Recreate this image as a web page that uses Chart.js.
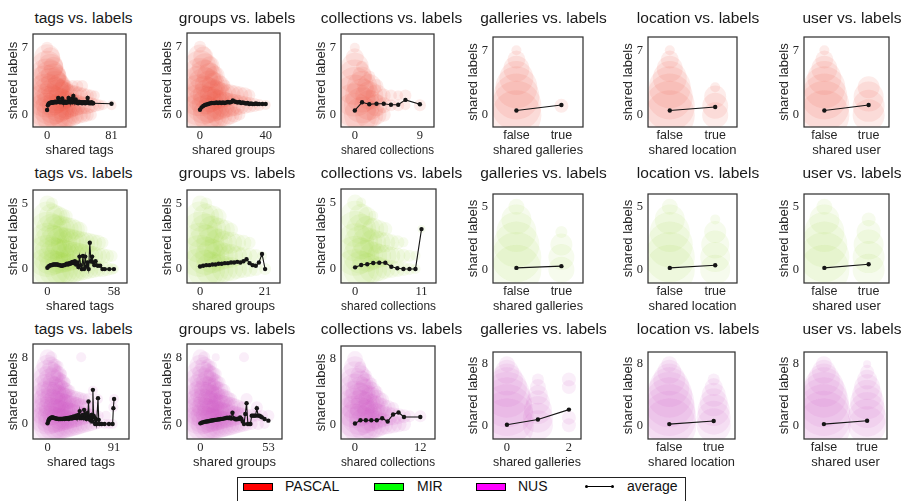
<!DOCTYPE html>
<html>
<head>
<meta charset="utf-8">
<script src="https://cdn.jsdelivr.net/npm/chart.js@4.4.1/dist/chart.umd.min.js"></script>
<style>
  body { margin: 0; background: #fff; width: 902px; height: 501px; position: relative; overflow: hidden;
         font-family: "Liberation Sans", Arial, sans-serif; }
  canvas { position: absolute; }
  .title { position: absolute; width: 200px; height: 18px; line-height: 18px; font-size: 15.5px;
           color: #1a1a1a; text-align: center; white-space: nowrap; }
  #legend { position: absolute; left: 237px; top: 477px; width: 449px; height: 30px;
            border: 1px solid #222; box-sizing: border-box; }
  .sw { position: absolute; top: 5px; width: 30px; height: 8px; border: 1px solid #000; box-sizing: border-box; }
  .lt { position: absolute; top: 0; line-height: 16px; font-size: 14px; color: #111; }
  .ln { position: absolute; top: 8px; left: 348px; width: 27px; height: 1px; background: #000; }
  .dot { position: absolute; top: 7px; width: 3px; height: 3px; border-radius: 50%; background: #000; }
</style>
</head>
<body>
<div id="legend">
  <div class="sw" style="left:5px;background:#ff0000"></div><div class="lt" style="left:47px">PASCAL</div>
  <div class="sw" style="left:136px;background:#00ff00"></div><div class="lt" style="left:179px">MIR</div>
  <div class="sw" style="left:238px;background:#ff00ff"></div><div class="lt" style="left:280px">NUS</div>
  <div class="ln"></div><div class="dot" style="left:347px"></div><div class="dot" style="left:373px"></div>
  <div class="lt" style="left:389px">average</div>
</div>
<script>
// ---- categories / ticks ----
const datasetNames = ["PASCAL", "MIR", "NUS"];
const featureNames = ["tags", "groups", "collections", "galleries", "location", "user"];
const boolLabels = ["false", "true"];
const yTickValues = [[0, 7], [0, 5], [0, 8]];
const xTickValues = [
  [[0, 81], [0, 40], [0, 9], [0, 1], [0, 1], [0, 1]],
  [[0, 58], [0, 21], [0, 11], [0, 1], [0, 1], [0, 1]],
  [[0, 91], [0, 53], [0, 12], [0, 2], [0, 1], [0, 1]]
];
const boolAxis = [
  [false, false, false, true, true, true],
  [false, false, false, true, true, true],
  [false, false, false, false, true, true]
];

// ---- PASCAL: bubbles [x, y, radius px], averages [x, y] ----
const pascalTagsCloud = [
  [0,7,6],
  [0,6,13],[4,6,10],
  [0,5,16],[4,5,13],[8,5,10],
  [0,4,18],[4,4,16],[8,4,13],[12,4,10],
  [0,3,21],[5,3,18],[10,3,15],[15,3,12],[20,3,8],[25,3,6],[32,3,6],[38,3,6],[44,3,6],
  [0,2,22],[5,2,20],[10,2,18],[15,2,16],[20,2,14],[25,2,12],[30,2,11],[35,2,10],[40,2,9],[45,2,8],[50,2,7],[55,2,6],[60,2,5],
  [0,1,22],[5,1,20],[10,1,19],[15,1,17],[20,1,15],[25,1,14],[30,1,12],[35,1,11],[40,1,10],[45,1,9],[50,1,9],[55,1,8],[60,1,7],[65,1,6],[70,1,5],[81,1,5],
  [0,0,22],[5,0,20],[10,0,19],[15,0,17],[20,0,15],[25,0,13],[30,0,12],[35,0,10],[40,0,9],[45,0,8],[50,0,7],[55,0,6]
];
const pascalTagsAvg = [[0,0.5],[1,1.0],[2,1.15],[3,1.2],[4,1.25],[5,1.25],[6,1.3],[7,1.25],[8,1.3],[9,1.3],[10,1.35],
  [11,1.3],[12,1.3],[13,1.4],[14,1.75],[15,1.35],[16,1.3],[17,1.4],[18,1.3],[19,1.7],[20,1.3],[21,1.25],[22,1.4],
  [23,1.3],[24,1.25],[25,1.35],[26,1.3],[27,1.75],[28,1.3],[29,1.4],[30,1.3],[31,1.65],[32,1.3],[33,1.95],[34,1.5],
  [35,1.3],[36,1.6],[37,1.3],[38,1.25],[39,1.2],[40,1.35],[41,1.3],[42,1.25],[43,1.3],[44,1.2],[45,1.3],[46,1.25],
  [47,1.3],[48,1.2],[49,1.3],[50,1.25],[51,1.75],[52,1.3],[53,1.2],[54,1.25],[55,1.2],[56,1.3],[57,1.2],[58,1.2],[81,1.15]];

const pascalGroupsCloud = [
  [0,7,6],
  [0,6,12],[2,6,10],
  [0,5,16],[3,5,13],[6,5,10],
  [0,4,18],[3,4,16],[6,4,13],[9,4,10],
  [0,3,20],[3,3,18],[6,3,15],[9,3,13],[12,3,10],[15,3,6],
  [0,2,21],[3,2,19],[6,2,17],[9,2,15],[12,2,13],[15,2,12],[18,2,11],[21,2,10],[24,2,9],[27,2,8],[30,2,6],
  [0,1,21],[3,1,19],[6,1,18],[9,1,16],[12,1,15],[15,1,13],[18,1,12],[21,1,11],[24,1,10],[27,1,9],[30,1,8],[33,1,7],[36,1,6],[40,1,5],
  [0,0,21],[3,0,19],[6,0,17],[9,0,15],[12,0,13],[15,0,12],[18,0,10],[21,0,8],[24,0,6]
];
const pascalGroupsAvg = [[0,0.5],[1,0.75],[2,0.9],[3,1.0],[4,1.05],[5,1.1],[6,1.15],[7,1.2],[8,1.2],[9,1.2],[10,1.25],
  [11,1.2],[12,1.25],[13,1.2],[14,1.25],[15,1.2],[16,1.25],[17,1.3],[18,1.25],[19,1.3],[20,1.45],[21,1.35],[22,1.3],
  [23,1.25],[24,1.3],[25,1.2],[26,1.25],[27,1.2],[28,1.15],[29,1.2],[30,1.1],[31,1.15],[32,1.1],[33,1.1],[34,1.15],
  [35,1.1],[36,1.1],[38,1.1],[40,1.1]];

const pascalCollectionsCloud = [
  [0,0,22],[0,1,22],[0,2,21],[0,3,19],[0,4,17],[0,5,14],[0,6,9],[0,7,5],
  [1,0,18],[1,1,18],[1,2,17],[1,3,15],[1,4,10],[1,5,6],
  [2,0,14],[2,1,15],[2,2,14],[2,3,12],[2,4,6],
  [3,0,10],[3,1,11],[3,2,11],[3,3,7],
  [4,0,7],[4,1,8],[4,2,7],
  [5,1,6],[5,2,6],[6,1,6],[6,2,5],[7,1,5],[7,2,6],[9,1,6]
];
const pascalCollectionsAvg = [[0,0.45],[1,1.3],[2,1.1],[3,1.15],[4,1.15],[5,1.05],[6,1.05],[7,1.55],[9,1.1]];

const pascalGalleriesCloud = [[0,0,25],[0,1,25],[0,2,23],[0,3,21],[0,4,17],[0,5,13],[0,6,9],[0,7,5],[1,1,7]];
const pascalGalleriesAvg = [[0,0.5],[1,1.1]];
const pascalLocationCloud = [[0,0,25],[0,1,25],[0,2,23],[0,3,21],[0,4,17],[0,5,13],[0,6,9],[0,7,5],
  [1,0,13],[1,1,13],[1,2,11],[1,3,5]];
const pascalLocationAvg = [[0,0.5],[1,0.87]];
const pascalUserCloud = [[0,0,25],[0,1,25],[0,2,23],[0,3,21],[0,4,17],[0,5,13],[0,6,9],[0,7,5],
  [1,0,16],[1,1,16],[1,2,15],[1,3,11]];
const pascalUserAvg = [[0,0.5],[1,1.1]];

// ---- MIR ----
const mirTagsCloud = [
  [0,5,8],[4,5,6],
  [0,4,15],[4,4,13],[8,4,11],[12,4,9],[16,4,7],
  [0,3,18],[4,3,16],[8,3,15],[12,3,14],[16,3,13],[20,3,12],[24,3,10],[28,3,8],
  [0,2,20],[4,2,18],[8,2,17],[12,2,16],[16,2,15],[20,2,14],[24,2,13],[28,2,12],[32,2,11],[36,2,10],[40,2,9],[44,2,8],[48,2,6],
  [0,1,21],[4,1,19],[8,1,18],[12,1,17],[16,1,16],[20,1,15],[24,1,14],[28,1,13],[32,1,12],[36,1,11],[40,1,10],[44,1,9],[48,1,8],[52,1,7],[56,1,6],
  [0,0,21],[4,0,19],[8,0,18],[12,0,17],[16,0,16],[20,0,15],[24,0,13],[28,0,12],[32,0,11],[36,0,10],[40,0,9],[44,0,8],[48,0,8],[52,0,7],[56,0,6],[58,0,5]
];
const mirTagsAvg = [[0,0.1],[1,0.2],[2,0.25],[3,0.3],[4,0.3],[5,0.35],[6,0.35],[7,0.35],[8,0.35],[9,0.35],[10,0.3],
  [11,0.3],[12,0.25],[13,0.25],[14,0.3],[15,0.3],[16,0.35],[17,0.4],[18,0.35],[19,0.45],[20,0.4],[21,0.5],[22,0.55],
  [23,0.45],[24,0.6],[25,0.35],[26,0.5],[27,0.15],[28,0.95],[29,0.3],[30,0],[31,1.0],[32,0],[33,0.95],[34,0.2],
  [35,0.5],[36,0],[37,2.0],[38,0.6],[39,0.95],[40,0.5],[41,0.3],[42,0.6],[44,0.25],[46,0.25],[48,0],[50,0],[54,0],[58,0]];

const mirGroupsCloud = [
  [0,5,8],[2,5,6],
  [0,4,15],[2,4,13],[4,4,11],[6,4,8],
  [0,3,18],[2,3,16],[4,3,14],[6,3,12],[8,3,10],[10,3,7],
  [0,2,20],[2,2,18],[4,2,16],[6,2,14],[8,2,12],[10,2,11],[12,2,9],[14,2,8],[16,2,6],
  [0,1,21],[2,1,19],[4,1,17],[6,1,15],[8,1,13],[10,1,12],[12,1,10],[14,1,9],[16,1,8],[18,1,7],[20,1,5],
  [0,0,21],[2,0,19],[4,0,17],[6,0,15],[8,0,13],[10,0,12],[12,0,10],[14,0,9],[16,0,8],[18,0,7],[21,0,6]
];
const mirGroupsAvg = [[0,0.2],[1,0.25],[2,0.3],[3,0.3],[4,0.35],[5,0.35],[6,0.4],[7,0.4],[8,0.45],[9,0.45],[10,0.5],
  [11,0.5],[12,0.55],[13,0.5],[14,0.6],[15,0.75],[16,0.45],[17,0.3],[18,0.25],[19,0.5],[20,1.15],[21,0]];

const mirCollectionsCloud = [
  [0,0,20],[0,1,20],[0,2,19],[0,3,18],[0,4,15],[0,5,8],
  [1,0,18],[1,1,18],[1,2,17],[1,3,15],[1,4,12],[1,5,5],
  [2,0,16],[2,1,16],[2,2,15],[2,3,13],[2,4,9],
  [3,0,14],[3,1,14],[3,2,13],[3,3,11],[3,4,5],
  [4,0,12],[4,1,12],[4,2,11],[4,3,9],
  [5,0,10],[5,1,11],[5,2,10],[5,3,7],
  [6,0,9],[6,1,9],[6,2,8],[7,0,8],[7,1,8],[7,2,7],[8,0,7],[8,1,7],[8,2,5],
  [9,0,6],[9,1,6],[10,0,5],[10,1,5],[11,3,4]
];
const mirCollectionsAvg = [[0,0.12],[1,0.3],[2,0.35],[3,0.45],[4,0.47],[5,0.47],[6,0.16],[7,0.05],[8,0],[9,0],[10,0],[11,3.0]];

const mirGalleriesCloud = [[0,0,25],[0,1,25],[0,2,23],[0,3,20],[0,4,15],[0,5,8],
  [1,0,13],[1,1,13],[1,2,11],[1,3,6]];
const mirGalleriesAvg = [[0,0.14],[1,0.28]];
const mirLocationCloud = [[0,0,25],[0,1,25],[0,2,23],[0,3,20],[0,4,15],[0,5,8],
  [1,0,15],[1,1,15],[1,2,14],[1,3,11],[1,4,5]];
const mirLocationAvg = [[0,0.14],[1,0.35]];
const mirUserCloud = [[0,0,25],[0,1,25],[0,2,23],[0,3,20],[0,4,15],[0,5,8],
  [1,0,16],[1,1,16],[1,2,15],[1,3,12],[1,4,7]];
const mirUserAvg = [[0,0.14],[1,0.43]];

// ---- NUS ----
const nusTagsCloud = [
  [0,8,8],[5,8,6],[46,8,5],
  [0,7,11],[5,7,9],[10,7,7],[15,7,5],
  [0,6,14],[5,6,12],[10,6,10],[15,6,8],[20,6,5],
  [0,5,16],[5,5,14],[10,5,12],[15,5,10],[20,5,8],[25,5,5],
  [0,4,17],[5,4,15],[10,4,14],[15,4,12],[20,4,10],[25,4,8],[30,4,6],[62,4,5],
  [0,3,18],[5,3,17],[10,3,15],[15,3,14],[20,3,12],[25,3,11],[30,3,10],[35,3,9],[40,3,8],[45,3,7],[50,3,6],[56,3,6],[69,3,5],[91,3,5],
  [0,2,19],[5,2,18],[10,2,16],[15,2,15],[20,2,14],[25,2,13],[30,2,12],[35,2,11],[40,2,10],[45,2,9],[50,2,8],[55,2,7],[62,2,6],[90,2,5],
  [0,1,19],[5,1,18],[10,1,17],[15,1,16],[20,1,15],[25,1,14],[30,1,13],[35,1,12],[40,1,11],[45,1,10],[50,1,9],[55,1,8],[60,1,7],[65,1,6],[70,1,5],[80,1,5],
  [0,0,19],[5,0,18],[10,0,17],[15,0,16],[20,0,15],[25,0,14],[30,0,13],[35,0,12],[40,0,11],[45,0,10],[50,0,9],[55,0,8],[60,0,7],[65,0,6],[70,0,5],[78,0,5],[84,0,5],[89,0,5]
];
const nusTagsAvg = [[0,0.08],[1,0.35],[2,0.55],[3,0.65],[4,0.7],[5,0.75],[6,0.78],[7,0.78],[8,0.75],[9,0.72],[10,0.7],
  [11,0.68],[12,0.65],[13,0.63],[14,0.62],[15,0.6],[16,0.6],[17,0.62],[18,0.6],[19,0.62],[20,0.6],[21,0.62],[22,0.65],
  [23,0.6],[24,0.68],[25,0.62],[26,0.7],[27,0.65],[28,0.72],[29,0.6],[30,0.75],[31,0.7],[32,0.8],[33,0.65],[34,0.85],
  [35,0.7],[36,0.9],[37,0.75],[38,0.8],[39,1.0],[40,0.7],[41,0.9],[42,1.1],[43,0.8],[44,1.55],[45,0.7],[46,0.9],
  [47,0.8],[48,1.1],[49,0.7],[50,1.7],[51,0.8],[52,1.0],[53,0.6],[54,1.3],[55,0.7],[56,2.7],[57,0.9],[58,0.5],
  [59,0.8],[60,1.1],[61,0.3],[62,4.1],[63,1.0],[64,0.8],[65,0],[66,0.6],[67,0],[69,3.1],[70,0.5],[71,0],[74,0],
  [78,0],[84,0],[89,0],[90,1.9],[91,3.0]];

const nusGroupsCloud = [
  [0,8,8],[3,8,6],[12,8,4],[34,8,5],
  [0,7,11],[3,7,9],[6,7,7],[9,7,5],
  [0,6,14],[3,6,12],[6,6,10],[9,6,8],[12,6,6],
  [0,5,16],[3,5,14],[6,5,12],[9,5,10],[12,5,8],[15,5,6],
  [0,4,17],[3,4,15],[6,4,14],[9,4,12],[12,4,10],[15,4,9],[18,4,7],
  [0,3,18],[3,3,17],[6,3,15],[9,3,14],[12,3,12],[15,3,11],[18,3,10],[21,3,8],[24,3,6],[36,3,6],
  [0,2,19],[3,2,18],[6,2,16],[9,2,15],[12,2,14],[15,2,13],[18,2,12],[21,2,11],[24,2,10],[27,2,9],[30,2,7],[33,2,6],[44,2,6],
  [0,1,19],[3,1,18],[6,1,17],[9,1,16],[12,1,15],[15,1,14],[18,1,13],[21,1,12],[24,1,11],[27,1,10],[30,1,9],[33,1,8],[36,1,7],[40,1,7],[44,1,6],[48,1,6],[53,1,6],
  [0,0,19],[3,0,18],[6,0,17],[9,0,16],[12,0,15],[15,0,14],[18,0,13],[21,0,12],[24,0,11],[27,0,10],[30,0,9],[33,0,8],[36,0,7],[40,0,6],[45,0,6],[50,0,5]
];
const nusGroupsAvg = [[0,0.08],[1,0.15],[2,0.2],[3,0.25],[4,0.28],[5,0.3],[6,0.33],[7,0.36],[8,0.4],[9,0.42],[10,0.45],
  [11,0.48],[12,0.5],[13,0.52],[14,0.55],[15,0.57],[16,0.6],[17,0.62],[18,0.65],[19,0.68],[20,0.72],[21,0.75],[22,0.7],
  [23,0.8],[24,0.65],[25,1.35],[26,0.7],[27,0.6],[28,0.55],[29,0.65],[30,0.6],[31,0.8],[32,0.6],[33,0.3],[34,0],
  [35,1.2],[36,2.5],[37,0],[38,0],[39,0],[40,1.0],[41,1.0],[42,1.0],[43,1.0],[44,1.9],[45,1.0],[46,1.0],[47,0.9],
  [48,0.8],[50,0.6],[53,0.4]];

const nusCollectionsCloud = [
  [0,0,21],[0,1,21],[0,2,20],[0,3,19],[0,4,18],[0,5,16],[0,6,14],[0,7,11],[0,8,8],
  [1,0,19],[1,1,19],[1,2,18],[1,3,17],[1,4,15],[1,5,13],[1,6,10],[1,7,6],
  [2,0,17],[2,1,17],[2,2,16],[2,3,15],[2,4,13],[2,5,10],[2,6,6],
  [3,0,15],[3,1,15],[3,2,14],[3,3,13],[3,4,10],[3,5,6],
  [4,0,13],[4,1,13],[4,2,12],[4,3,10],[4,4,6],
  [5,0,11],[5,1,11],[5,2,10],[5,3,7],
  [6,0,10],[6,1,10],[6,2,8],[7,0,9],[7,1,9],[7,2,6],
  [8,0,8],[8,1,8],[9,0,7],[9,1,7],[10,1,6],[12,1,6]
];
const nusCollectionsAvg = [[0,0.1],[1,0.5],[2,0.5],[3,0.5],[4,0.5],[5,0.75],[6,0.35],[7,1.2],[8,1.45],[9,0.9],[12,0.9]];

const nusGalleriesCloud = [[0,0,27],[0,1,27],[0,2,26],[0,3,25],[0,4,23],[0,5,20],[0,6,16],[0,7,12],[0,8,8],
  [1,0,15],[1,1,15],[1,2,14],[1,3,12],[1,4,10],[1,5,8],[1,6,6],
  [2,0,7],[2,1,7],[2,5,7],[2,6,7]];
const nusGalleriesAvg = [[0,0.07],[1,0.75],[2,2.05]];
const nusLocationCloud = [[0,0,27],[0,1,27],[0,2,26],[0,3,25],[0,4,23],[0,5,20],[0,6,16],[0,7,12],[0,8,8],
  [1,0,17],[1,1,17],[1,2,16],[1,3,14],[1,4,12],[1,5,9],[1,6,6]];
const nusLocationAvg = [[0,0.15],[1,0.55]];
const nusUserCloud = [[0,0,27],[0,1,27],[0,2,26],[0,3,25],[0,4,23],[0,5,20],[0,6,16],[0,7,12],[0,8,8],
  [1,0,19],[1,1,19],[1,2,18],[1,3,17],[1,4,15],[1,5,13],[1,6,10],[1,7,7],[1,8,4]];
const nusUserAvg = [[0,0.15],[1,0.6]];

const clouds = [
  [pascalTagsCloud, pascalGroupsCloud, pascalCollectionsCloud, pascalGalleriesCloud, pascalLocationCloud, pascalUserCloud],
  [mirTagsCloud, mirGroupsCloud, mirCollectionsCloud, mirGalleriesCloud, mirLocationCloud, mirUserCloud],
  [nusTagsCloud, nusGroupsCloud, nusCollectionsCloud, nusGalleriesCloud, nusLocationCloud, nusUserCloud]
];
const averages = [
  [pascalTagsAvg, pascalGroupsAvg, pascalCollectionsAvg, pascalGalleriesAvg, pascalLocationAvg, pascalUserAvg],
  [mirTagsAvg, mirGroupsAvg, mirCollectionsAvg, mirGalleriesAvg, mirLocationAvg, mirUserAvg],
  [nusTagsAvg, nusGroupsAvg, nusCollectionsAvg, nusGalleriesAvg, nusLocationAvg, nusUserAvg]
];

// ---- layout / style ----
const COL_LEFT = [33, 187, 341, 493, 648, 804];
const COL_WIDTH = [101, 100, 101, 101, 100, 96];
const ROW_TOP = [26, 183, 339];
const ROW_HEIGHT = [101, 100, 100];
const TITLE_TOP = [8.6, 164.2, 319.9];
const Y_RANGE = [[-1.28, 8.43], [-1.06, 6.02], [-1.8, 9.6]];
const X_RANGE = [
  [[-17.7, 99.2], [-7.9, 48.7], [-1.91, 10.95], [-0.52, 1.48], [-0.48, 1.48], [-0.46, 1.46]],
  [[-12.5, 69.4], [-4.2, 25.8], [-2.34, 13.4], [-0.52, 1.48], [-0.48, 1.48], [-0.46, 1.46]],
  [[-19.9, 111.4], [-10.4, 63.6], [-2.57, 14.7], [-0.45, 2.39], [-0.48, 1.48], [-0.46, 1.46]]
];
const CLOUD_COLOR = ["rgba(236, 92, 68, 0.115)", "rgba(150, 210, 60, 0.09)", "rgba(208, 90, 196, 0.105)"];
const YW = 32, XH = 34, PT = 14, PR = 14;
const SANS = "'Liberation Sans', Arial, sans-serif";
const SERIF = "'Liberation Serif', 'Times New Roman', serif";
const TEXT = "#262626";

const framePlugin = {
  id: "frame",
  afterDatasetsDraw(chart) {
    const { ctx, chartArea: a } = chart;
    ctx.save();
    ctx.strokeStyle = "#333";
    ctx.lineWidth = 1.25;
    ctx.strokeRect(a.left, a.top, a.right - a.left, a.bottom - a.top);
    ctx.restore();
  }
};

function makePanel(row, col) {
  const L = COL_LEFT[col], W = COL_WIDTH[col], T = ROW_TOP[row], H = ROW_HEIGHT[row];
  const isBool = boolAxis[row][col];
  const feature = featureNames[col];

  const title = document.createElement("div");
  title.className = "title";
  title.textContent = feature + " vs. labels";
  title.style.left = (L + W / 2 - 100) + "px";
  title.style.top = TITLE_TOP[row] + "px";
  document.body.appendChild(title);

  const canvas = document.createElement("canvas");
  const cw = YW + W + PR, ch = PT + H + XH;
  canvas.width = cw; canvas.height = ch;
  canvas.style.width = cw + "px"; canvas.style.height = ch + "px";
  canvas.style.left = (L - YW) + "px"; canvas.style.top = (T - PT) + "px";
  document.body.appendChild(canvas);

  const xt = xTickValues[row][col], yt = yTickValues[row];

  new Chart(canvas, {
    type: "bubble",
    data: {
      datasets: [
        {
          type: "line",
          label: "average",
          data: averages[row][col].map(([x, y]) => ({ x, y })),
          borderColor: "#151515",
          borderWidth: 1.1,
          pointRadius: 2.2,
          pointBackgroundColor: "#151515",
          pointBorderWidth: 0,
          fill: false,
          tension: 0,
          order: 1
        },
        {
          type: "bubble",
          label: datasetNames[row],
          data: clouds[row][col].map(([x, y, r]) => ({ x, y, r })),
          backgroundColor: CLOUD_COLOR[row],
          borderWidth: 0,
          hoverRadius: 0,
          clip: 0,
          order: 2
        }
      ]
    },
    options: {
      responsive: false,
      animation: false,
      devicePixelRatio: 1,
      layout: { padding: { top: PT, right: PR, bottom: 0, left: 0 } },
      plugins: { legend: { display: false }, tooltip: { enabled: false } },
      scales: {
        x: {
          type: "linear",
          min: X_RANGE[row][col][0], max: X_RANGE[row][col][1],
          grid: { display: false, drawTicks: false },
          border: { display: false },
          afterBuildTicks: s => { s.ticks = xt.map(v => ({ value: v })); },
          afterFit: s => { s.height = XH; },
          ticks: {
            padding: 1, autoSkip: false, maxRotation: 0, color: TEXT,
            font: { family: isBool ? SANS : SERIF, size: 12.5 },
            callback: v => isBool ? boolLabels[v] : String(v)
          },
          title: {
            display: true, text: "shared " + feature, color: TEXT,
            font: { family: SANS, size: 13, lineHeight: 1.2 },
            padding: { top: 0, bottom: 3.2 }
          }
        },
        y: {
          type: "linear",
          min: Y_RANGE[row][0], max: Y_RANGE[row][1],
          grid: { display: false, drawTicks: false },
          border: { display: false },
          afterBuildTicks: s => { s.ticks = yt.map(v => ({ value: v })); },
          afterFit: s => { s.width = YW; },
          ticks: {
            padding: 5, autoSkip: false, color: TEXT,
            font: { family: SERIF, size: 12.5 },
            callback: v => String(v)
          },
          title: {
            display: true, text: "shared labels", color: TEXT,
            font: { family: SANS, size: 13, lineHeight: 1.2 },
            padding: { top: 4.7, bottom: 0 }
          }
        }
      }
    },
    plugins: [framePlugin]
  });
}

for (let r = 0; r < 3; r++) {
  for (let c = 0; c < 6; c++) makePanel(r, c);
}
</script>
</body>
</html>
